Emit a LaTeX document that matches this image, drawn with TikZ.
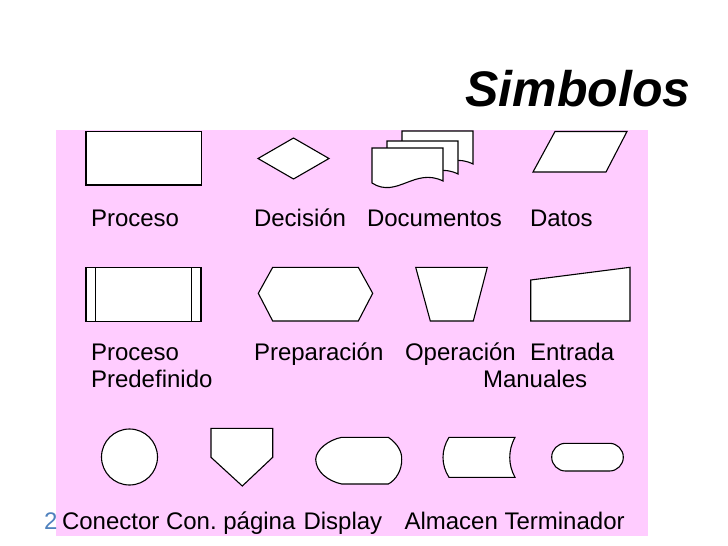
\documentclass[tikz,border=0pt]{standalone}
\usepackage{fontspec}
\setmainfont{Liberation Sans}
\definecolor{panelpink}{HTML}{FFCCFF}
\definecolor{slideblue}{HTML}{4F81BD}
\def\pagew{71}
\def\pageh{35}

\begin{document}
\begin{tikzpicture}[x=1pt,y=-1pt,line width=1.1pt]
    \tikzstyle{symbol}=[draw=black, fill=white, line join=miter];
    \tikzstyle{label}=[anchor=base west, inner sep=0pt, font=\fontsize{24}{28}\selectfont];
    \tikzstyle{title}=[anchor=base east, inner sep=0pt, font=\fontsize{50}{56}\selectfont\bfseries\itshape];

    \useasboundingbox (0,0) rectangle (728,546);
    \fill[panelpink] (56,130) rectangle (648,536);

    \node[title] (title) at (691,106) {Simbolos};

    % first row
    \draw[symbol] (86,131.5) rectangle (201.5,185);
    \draw[symbol] (258,158.5) -- (293.5,138) -- (329,158.5) -- (293.5,179) -- cycle;
    \foreach \dx/\dy in {30/-17, 15/-7, 0/0}
        \draw[symbol, shift={(372+\dx,148+\dy)}]
            (0,\pageh) -- (0,0) -- (\pagew,0) -- (\pagew,\pageh-2)
            .. controls (0.6*\pagew,\pageh-16) and (0.35*\pagew,\pageh+16) .. cycle;
    \draw[symbol] (533,172) -- (555,131.5) -- (627,131.5) -- (606,172) -- cycle;

    % second row
    \draw[symbol] (86,267.3) rectangle (201,321.7);
    \draw (95.3,267.3) -- (95.3,321.7);
    \draw (191.3,267.3) -- (191.3,321.7);
    \draw[symbol] (258.3,293.3) -- (272.7,267.3) -- (358.3,267.3) -- (372.7,293.3)
        -- (358.3,321) -- (272.7,321) -- cycle;
    \draw[symbol] (415.7,267.3) -- (487.3,267.3) -- (473.3,321) -- (430.3,321) -- cycle;
    \draw[symbol] (530.7,280) -- (630,267.3) -- (630,321) -- (530.7,321) -- cycle;

    % third row
    \draw[symbol] (129.5,457) circle[radius=28pt];
    \draw[symbol] (211,428.3) -- (272.7,428.3) -- (272.7,457.3) -- (242.3,486)
        -- (211,457.3) -- cycle;
    \draw[symbol] (341.7,437.3) -- (388.3,437.3)
        .. controls (398,444) and (402,452) .. (401.7,459.3)
        .. controls (402,470) and (396,480) .. (388.3,484) -- (341.7,484)
        .. controls (328,481) and (316,472) .. (315.7,459.3)
        .. controls (316,450) and (328,440) .. cycle;
    \draw[symbol] (449,437.3) -- (515,437.3)
        .. controls (508,450) and (508,465) .. (515,477.3) -- (449,477.3)
        .. controls (441,465) and (441,450) .. cycle;
    \draw[symbol, rounded corners=13.8pt] (551.7,443.3) rectangle (623.3,471);

    % labels
    \foreach \name/\x/\y/\txt in {proceso/90.5/226/Proceso, decision/253.5/226/Decisión,
            documentos/366.5/226/Documentos, datos/529.5/226/Datos,
            predef/90.5/360/Proceso, predef2/90.5/387/Predefinido,
            preparacion/253.5/360/Preparación, operacion/404.5/360/Operación,
            entrada/529.5/360/Entrada, manuales/482.5/387/Manuales,
            conector/61.5/529/Conector, pagina/165.5/529/Con.\ página,
            display/303/529/Display, almacen/404/529/Almacen,
            terminador/504/529/Terminador}
        \node[label] (L-\name) at (\x,\y) {\txt};

    \node[label, text=slideblue] (slide) at (43.5,529) {2};
\end{tikzpicture}
\end{document}
